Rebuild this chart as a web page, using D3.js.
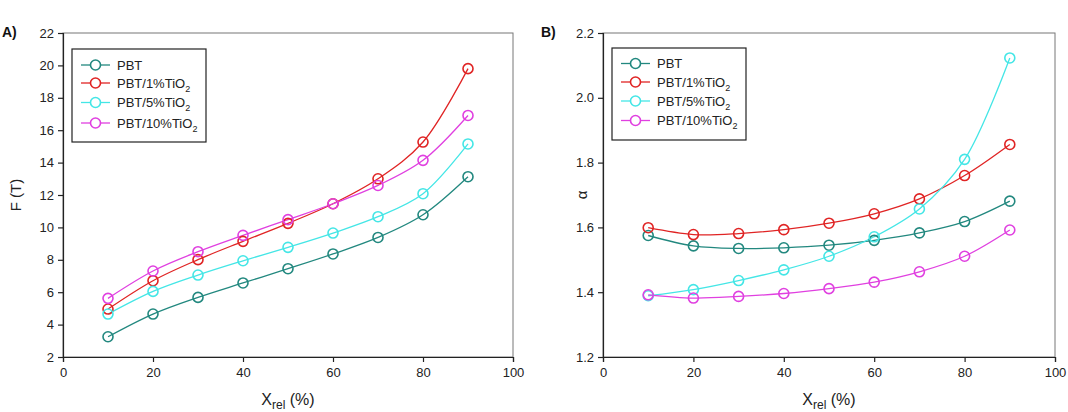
<!DOCTYPE html>
<html><head><meta charset="utf-8">
<script src="https://cdn.jsdelivr.net/npm/d3@7"></script>
<style>body{margin:0;background:#fff}svg{display:block;font-family:"Liberation Sans",Arial,sans-serif}</style>
</head><body><svg id="c" width="1068" height="412"></svg>
<script>
const xVals = [10,20,30,40,50,60,70,80,90];
const seriesNames = ["PBT","PBT/1%TiO2","PBT/5%TiO2","PBT/10%TiO2"];
const seriesColors = ["#22887f","#e02424","#44e6e6","#e040e0"];
const F_PBT   = [3.25,4.65,5.68,6.57,7.45,8.36,9.38,10.78,13.13];
const F_1     = [4.96,6.71,8.01,9.14,10.25,11.46,13.0,15.27,19.8];
const F_5     = [4.65,6.05,7.06,7.94,8.77,9.65,10.66,12.08,15.15];
const F_10    = [5.62,7.31,8.5,9.51,10.48,11.46,12.59,14.14,16.91];
const A_PBT   = [1.575,1.543,1.535,1.537,1.545,1.560,1.583,1.618,1.681];
const A_1     = [1.599,1.578,1.581,1.593,1.613,1.642,1.688,1.760,1.856];
const A_5     = [1.389,1.408,1.436,1.469,1.511,1.571,1.657,1.810,2.123];
const A_10    = [1.392,1.382,1.387,1.396,1.411,1.431,1.463,1.511,1.592];
const xTicks = [0,20,40,60,80,100];
const yTicksA = [2,4,6,8,10,12,14,16,18,20,22];
const yTicksB = [1.2,1.4,1.6,1.8,2.0,2.2];

const svg = d3.select("#c");

function panel(cfg){
  const g = svg.append("g");
  const x = d3.scaleLinear().domain([0,100]).range([cfg.x0,cfg.x1]);
  const y = d3.scaleLinear().domain(cfg.ydom).range([357,33]);
  g.append("rect").attr("x",cfg.x0).attr("y",33).attr("width",cfg.x1-cfg.x0).attr("height",324)
    .attr("fill","none").attr("stroke","#777").attr("stroke-width",1);
  const ax = g.append("g").attr("transform","translate(0,357)")
    .call(d3.axisBottom(x).tickValues(xTicks).tickSize(5).tickPadding(6).tickFormat(d3.format("d")));
  const ay = g.append("g").attr("transform",`translate(${cfg.x0},0)`)
    .call(d3.axisLeft(y).tickValues(cfg.yticks).tickSize(5).tickPadding(4).tickFormat(cfg.fmt));
  [ax,ay].forEach(a=>{
    a.select(".domain").attr("stroke","#222").attr("stroke-width",1.2);
    a.selectAll(".tick line").attr("stroke","#222").attr("stroke-width",1.2);
    a.selectAll("text").attr("font-size",13).attr("fill","#222").attr("font-family","Liberation Sans, Arial, sans-serif");
  });
  const line = d3.line().x((d,i)=>x(xVals[i])).y(d=>y(d)).curve(d3.curveCatmullRom.alpha(0.5));
  cfg.data.forEach((s,k)=>{
    g.append("path").attr("d",line(s)).attr("fill","none").attr("stroke",seriesColors[k]).attr("stroke-width",1.3);
  });
  cfg.data.forEach((s,k)=>{
    g.selectAll(null).data(s).join("circle")
      .attr("cx",(d,i)=>x(xVals[i])).attr("cy",d=>y(d)).attr("r",5)
      .attr("fill","none").attr("stroke",seriesColors[k]).attr("stroke-width",1.6);
  });
  const L = cfg.leg;
  g.append("rect").attr("x",L.x).attr("y",L.y).attr("width",L.w).attr("height",L.h)
    .attr("fill","#fff").attr("stroke","#222").attr("stroke-width",1.2);
  seriesNames.forEach((n,k)=>{
    const yy = L.rows[k];
    g.append("line").attr("x1",L.x+9).attr("x2",L.x+38).attr("y1",yy).attr("y2",yy)
      .attr("stroke",seriesColors[k]).attr("stroke-width",1.3);
    g.append("circle").attr("cx",L.x+23.5).attr("cy",yy).attr("r",5).attr("fill","#fff")
      .attr("stroke",seriesColors[k]).attr("stroke-width",1.6);
    const t = g.append("text").attr("x",L.x+45).attr("y",yy+4.5).attr("font-size",13).attr("fill","#222");
    if(n.endsWith("TiO2")){
      t.append("tspan").text(n.slice(0,-1));
      t.append("tspan").attr("font-size",9).attr("dy",4).text("2");
    } else t.text(n);
  });
  const xt = g.append("text").attr("x",(cfg.x0+cfg.x1)/2).attr("y",405).attr("text-anchor","middle")
    .attr("font-size",16).attr("fill","#222");
  xt.append("tspan").text("X");
  xt.append("tspan").attr("font-size",12).attr("dy",4).text("rel");
  xt.append("tspan").attr("dy",-4).text(" (%)");
  g.append("text").attr("transform",`translate(${cfg.ytx},195) rotate(-90)`).attr("text-anchor","middle")
    .attr("font-size",15).attr("fill","#222").text(cfg.ytitle);
  g.append("text").attr("x",cfg.labx).attr("y",37).attr("font-size",14).attr("font-weight","bold").attr("fill","#111").text(cfg.lab);
}

panel({x0:63,x1:513,ydom:[2,22],yticks:yTicksA,fmt:d3.format("d"),
  data:[F_PBT,F_1,F_5,F_10],ytitle:"F (T)",ytx:21,lab:"A)",labx:2,
  leg:{x:72,y:49,w:134,h:93,rows:[65,83,102.5,123]}});
panel({x0:603,x1:1055,ydom:[1.2,2.2],yticks:yTicksB,fmt:d3.format(".1f"),
  data:[A_PBT,A_1,A_5,A_10],ytitle:"α",ytx:587,lab:"B)",labx:541,
  leg:{x:612,y:48,w:134,h:92,rows:[63.5,82,101,120.5]}});
</script></body></html>
